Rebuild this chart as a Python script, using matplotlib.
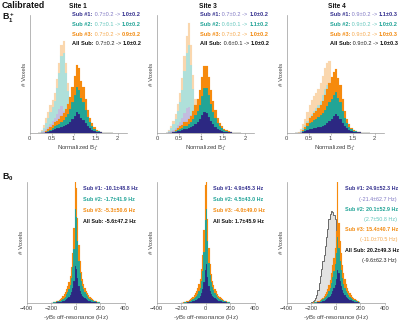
import numpy as np
import matplotlib
matplotlib.use("Agg")
import matplotlib.pyplot as plt

plt.rcParams['font.family'] = ['Liberation Sans', 'DejaVu Sans']
plt.rcParams['mathtext.fontset'] = 'custom'
plt.rcParams['mathtext.rm'] = 'Liberation Sans'
plt.rcParams['mathtext.it'] = 'Liberation Sans:italic'
plt.rcParams['mathtext.bf'] = 'Liberation Sans:bold'

# ---------------- data ----------------
sites = ["Site 1", "Site 3", "Site 4"]
b1_lo, b1_w = 0.2, 0.05          # B1+ histogram bins (34 bins)
b0_lo, b0_w = -200, 10           # B0 histogram bins (40 bins)

# B1+ uncalibrated (light) per subject, stacked
b1_uncal = {
    "Site 1": [
        [0,1,2,4,6,9,12,15,19,24,27,22,15,10,6,3,2,1,0,0,0,0,0,0,0,0,0,0,0,0,0,0,0,0],
        [0,1,3,6,9,12,14,17,26,36,50,58,45,32,22,13,7,3,1,0,0,0,0,0,0,0,0,0,0,0,0,0,0,0],
        [0,1,3,5,6,7,7,8,9,10,11,12,10,8,6,4,2,1,0,0,0,0,0,0,0,0,0,0,0,0,0,0,0,0]],
    "Site 3": [
        [0,1,2,3,5,8,11,15,20,25,26,18,10,5,2,1,0,0,0,0,0,0,0,0,0,0,0,0,0,0,0,0,0,0],
        [0,1,3,6,9,14,20,28,42,55,62,50,34,20,10,4,1,0,0,0,0,0,0,0,0,0,0,0,0,0,0,0,0,0],
        [0,1,2,3,5,7,9,12,15,17,22,20,14,9,5,2,1,0,0,0,0,0,0,0,0,0,0,0,0,0,0,0,0,0]],
    "Site 4": [
        [0,0,1,2,3,4,5,6,7,8,9,10,11,12,12,11,9,6,4,2,1,0.5,0,0,0,0,0,0,0,0,0,0,0,0],
        [0,0,1,3,5,8,11,13,15,17,19,22,27,32,36,37,28,16,8,4,2,1,0,0,0,0,0,0,0,0,0,0,0,0],
        [0,1,2,4,6,9,12,14,15,15,16,18,19,21,22,24,16,9,4,2,1,0,0,0,0,0,0,0,0,0,0,0,0,0]],
}
# B1+ calibrated per subject, stacked
b1_cal = {
    "Site 1": [
        [0,0,0,1,1,2,3,4,5,5,6,7,8,9,11,14,17,21,19,15,13,10,7,5,3,2,1,1,0.5,0,0,0,0,0],
        [0,0,0,0,1,1,2,3,3,4,5,6,8,10,13,17,21,25,24,20,18,13,9,6,4,2,1,0.5,0.5,0,0,0,0,0],
        [0,0,0,1,2,3,3,4,4,5,6,7,8,10,12,15,19,22,22,17,15,11,7,4,3,2,1,0.5,0,0,0,0,0,0]],
    "Site 3": [
        [0,0,0,1,1,2,2,3,4,4,5,6,7,9,11,14,18,21,20,16,12,9,6,4,3,2,1,1,0.5,0.5,0,0,0,0],
        [0,0,0,0,1,1,2,2,3,3,4,5,7,9,11,14,19,24,25,22,17,12,9,6,4,3,2,1,0.5,0.5,0,0,0,0],
        [0,0,0,0,1,2,3,3,4,4,5,6,8,10,12,15,19,22,22,18,14,11,8,5,3,2,1,1,0.5,0,0,0,0,0]],
    "Site 4": [
        [0,0,0,1,2,3,4,4,5,5,6,6,7,8,10,12,14,17,19,17,14,10,7,5,3,2,1,1,0.5,0.5,0,0,0,0],
        [0,0,0,1,2,4,6,7,8,9,10,12,13,15,17,19,20,21,22,18,17,12,8,5,3,2,1,0.5,0.5,0,0,0,0,0],
        [0,0,0,1,2,3,5,6,7,8,9,10,12,15,17,19,22,23,23,20,17,12,7,4,3,1,1,0.5,0,0,0,0,0,0]],
}
# B0 off-resonance per subject, stacked
b0_cal = {
    "Site 1": [
        [0.2,0.3,0.3,0.5,0.6,0.8,1,1.2,1.5,2, 2.5,3,4,5,6,8,11,15,22,37,
         34,25,17,12,9,7,6,5,4,3, 2.5,2,1.5,1.2,1,0.8,0.6,0.5,0.3,0.3],
        [0.2,0.3,0.4,0.5,0.6,0.8,1,1.3,1.6,2.2, 3,3.5,5,6,8,10,14,21,32,57,
         52,37,25,18,13,10,8,6,5,4, 3,2.5,2,1.5,1.2,1,0.8,0.6,0.5,0.4],
        [0.1,0.4,0.3,0.5,0.8,0.9,1,1.5,1.9,2.8, 3.5,4.5,5,6,7,9,11,14,21,29,
         29,23,16,12,9,7,5,4,3,3, 2.5,1.5,1.5,1.3,0.8,0.7,0.6,0.4,0.2,0.3]],
    "Site 3": [
        [0.2,0.3,0.3,0.4,0.5,0.7,0.9,1.1,1.4,1.8, 2.3,2.8,3.5,4.5,5.5,7,10,14,21,33,
         39,26,17,12,9,7,6,5,4,3, 2.5,2,1.6,1.3,1,0.8,0.6,0.5,0.4,0.3],
        [0.1,0.2,0.3,0.4,0.5,0.7,0.9,1.2,1.5,2, 2.6,3.2,4,5,6.5,8.5,12,18,30,50,
         55,36,23,16,12,9,7,5.5,4.5,3.5, 2.8,2.2,1.8,1.4,1.1,0.9,0.7,0.5,0.4,0.3],
        [0.2,0.3,0.4,0.5,0.7,0.9,1.1,1.4,1.8,2.4, 3,3.8,4.6,5.6,7,9,12,16,22,35,
         30,22,15,11,8,6,5,4,3.2,2.6, 2.1,1.7,1.3,1,0.8,0.6,0.5,0.4,0.3,0.2]],
    "Site 4": [
        [0.2,0.2,0.3,0.4,0.5,0.6,0.8,1.1,1.5,2, 2.5,3,3.8,4.7,6,7.5,9.5,12,15,18,
         24,33,30,22,17,13,10,8,6.5,5, 4,3.3,2.7,2,1.7,1.3,1,0.8,0.7,0.5],
        [0.2,0.2,0.3,0.3,0.4,0.5,0.6,0.9,1.2,1.7, 2.2,2.8,3.5,4.5,6,8,10.5,14,17,21,
         26,33,25,20,16,12,9,7,6,5, 4,3.2,2.6,2,1.6,1.3,1,0.8,0.6,0.5],
        [0.1,0.2,0.2,0.3,0.4,0.5,0.6,1,1.3,1.8, 2.3,3.2,3.7,4.8,6,7.5,10,12,13,16,
         22,56,25,20,17,13,11,9,6.5,5, 4,3.5,2.7,2,1.7,1.4,1,0.9,0.7,0.5]],
}
# Site 4 B0 before calibration (grey)
b0_uncal_site4 = [1,2,3,5,8,13,20,27,34,42, 48,57,66,74,84,89,92,91,88,84,
                  72,58,44,32,22,15,10,7,5,3, 2,1.5,1,1,0.8,0.6,0.5,0.4,0.3,0.2]

b1_stats = {
    "Site 1": [("0.7±0.2", "1.0±0.2"), ("0.7±0.1", "1.0±0.2"), ("0.7±0.2", "0.9±0.2"), ("0.7±0.2", "1.0±0.2")],
    "Site 3": [("0.7±0.2", "1.0±0.2"), ("0.6±0.1", "1.1±0.2"), ("0.7±0.2", "1.0±0.2"), ("0.6±0.1", "1.0±0.2")],
    "Site 4": [("0.9±0.2", "1.1±0.3"), ("0.9±0.2", "1.0±0.2"), ("0.9±0.2", "1.0±0.3"), ("0.9±0.2", "1.0±0.3")],
}
b0_stats = {
    "Site 1": ["-10.1±48.8 Hz", "-1.7±41.9 Hz", "-5.3±50.6 Hz", "-5.6±47.2 Hz"],
    "Site 3": ["4.9±45.3 Hz", "4.5±43.0 Hz", "-4.0±49.0 Hz", "1.7±45.9 Hz"],
    "Site 4": ["24.9±52.3 Hz", "20.1±52.9 Hz", "15.4±40.7 Hz", "20.2±49.3 Hz"],
}
b0_stats_site4_before = ["(-21.4±62.7 Hz)", "(2.7±50.8 Hz)", "(-11.0±70.5 Hz)", "(-9.6±62.3 Hz)"]
sub_labels = ["Sub #1:", "Sub #2:", "Sub #3:", "All Sub:"]

# ---------------- style ----------------
W, H = 400, 321
bar_dark = ['#2c2882', '#22a596', '#f68a0d']
bar_light = ['#c3bcdf', '#afe0da', '#fad7ae']
txt_dark = ['#34308f', '#20a396', '#f28a10', '#111111']
txt_light = ['#8079c4', '#62c6bc', '#f5a94e', '#222222']
FS_TOP = 4.05
FS_BOT = 3.9

fig = plt.figure(figsize=(W/100, H/100), dpi=100)

def fx(px): return px / W
def fy(py): return 1 - py / H

def style_ax(ax):
    for s in ['top', 'right']:
        ax.spines[s].set_visible(False)
    for s in ['left', 'bottom']:
        ax.spines[s].set_color('#9a9a9a')
        ax.spines[s].set_linewidth(0.5)
    ax.set_yticks([])
    ax.tick_params(axis='x', labelsize=4.2, length=1.5, width=0.4,
                   color='#9a9a9a', labelcolor='#444444', pad=1.0)
    ax.patch.set_alpha(0)

renderer = fig.canvas.get_renderer()

def seq_text(x, y, pieces, fs):
    cur = x
    for s, color, weight in pieces:
        t = fig.text(fx(cur), fy(y), s, color=color, fontweight=weight,
                     fontsize=fs, va='center', ha='left')
        bb = t.get_window_extent(renderer)
        cur = bb.x1

top_lefts = [29.5, 157.0, 286.5]
bot_lefts = [26.7, 156.7, 286.7]
site_x = [78, 208, 337]

n1 = len(b1_cal["Site 1"][0])
c1 = b1_lo + b1_w * (np.arange(n1) + 0.5)
n0 = len(b0_cal["Site 1"][0])
c0 = b0_lo + b0_w * (np.arange(n0) + 0.5)

for k, site in enumerate(sites):
    # ---- B1+ ----
    ax = fig.add_axes([fx(top_lefts[k]), fy(133), 97 / W, 118 / H])
    bottom = np.zeros(n1)
    for i, vals in enumerate(b1_uncal[site]):
        v = np.array(vals, float)
        ax.bar(c1, v, b1_w, bottom=bottom, color=bar_light[i],
               edgecolor=bar_light[i], linewidth=0.1, zorder=1)
        bottom += v
    bottom = np.zeros(n1)
    for i, vals in enumerate(b1_cal[site]):
        v = np.array(vals, float)
        ax.bar(c1, v, b1_w, bottom=bottom, color=bar_dark[i],
               edgecolor=bar_dark[i], linewidth=0.1, zorder=2)
        bottom += v
    ax.set_xlim(0, 2.2)
    ax.set_ylim(0, 118)
    ax.set_xticks([0, 0.5, 1, 1.5, 2])
    ax.set_xticklabels(['0', '0.5', '1', '1.5', '2'])
    style_ax(ax)
    ax.set_xlabel(r'Normalized B$_1^+$', fontsize=4.4, color='#444444', labelpad=1.5)
    ax.set_ylabel('# Voxels', fontsize=4.4, color='#444444', labelpad=2)

    fig.text(fx(site_x[k]), fy(7), site, fontsize=4.8, fontweight='bold',
             ha='center', va='center', color='#111111')
    for i in range(4):
        pre, post = b1_stats[site][i]
        seq_text(top_lefts[k] + 43, 14.3 + 9.85 * i,
                 [(sub_labels[i], txt_dark[i], 'bold'),
                  (" " + pre + " -> ", txt_light[i], 'normal'),
                  (post, txt_dark[i], 'bold')], FS_TOP)

    # ---- B0 ----
    ax2 = fig.add_axes([fx(bot_lefts[k]), fy(303), 98.3 / W, 121 / H])
    if site == "Site 4":
        g = np.array(b0_uncal_site4, float)
        edges = b0_lo + b0_w * np.arange(n0 + 1)
        ax2.stairs(g, edges, fill=True, color='#e2e2e2', zorder=1)
        ax2.stairs(g, edges, color='#555555', linewidth=0.6, zorder=1.5)
    bottom = np.zeros(n0)
    for i, vals in enumerate(b0_cal[site]):
        v = np.array(vals, float)
        ax2.bar(c0, v, b0_w, bottom=bottom, color=bar_dark[i],
                edgecolor=bar_dark[i], linewidth=0.1, zorder=2)
        bottom += v
    ax2.set_xlim(-400, 400)
    ax2.set_ylim(0, 121)
    ax2.set_xticks([-400, -200, 0, 200, 400])
    style_ax(ax2)
    ax2.set_xlabel(r'-$\gamma$B$_0$ off-resonance (Hz)', fontsize=4.4,
                   color='#444444', labelpad=0.8)
    ax2.set_ylabel('# Voxels', fontsize=4.4, color='#444444', labelpad=2)

    if site == "Site 4":
        ys = [189, 209.5, 229.8, 250]
        for i in range(4):
            seq_text(bot_lefts[k] + 58, ys[i],
                     [(sub_labels[i] + " " + b0_stats[site][i], txt_dark[i], 'bold')], FS_BOT)
            fig.text(fx(397), fy(ys[i] + 10.2), b0_stats_site4_before[i],
                     fontsize=FS_BOT, color=txt_light[i], ha='right', va='center')
    else:
        for i in range(4):
            seq_text(bot_lefts[k] + 56.5, 189 + 10.7 * i,
                     [(sub_labels[i] + " " + b0_stats[site][i], txt_dark[i], 'bold')], FS_BOT)

fig.text(fx(2), fy(6), 'Calibrated', fontsize=6.3, fontweight='bold', va='center', color='#111111')
fig.text(fx(2), fy(18), r'$\mathbf{B_1^+}$', fontsize=6.3, va='center', color='#111111')
fig.text(fx(2), fy(177), r'$\mathbf{B_0}$', fontsize=6.3, va='center', color='#111111')

fig.savefig('out.png', dpi=100)
